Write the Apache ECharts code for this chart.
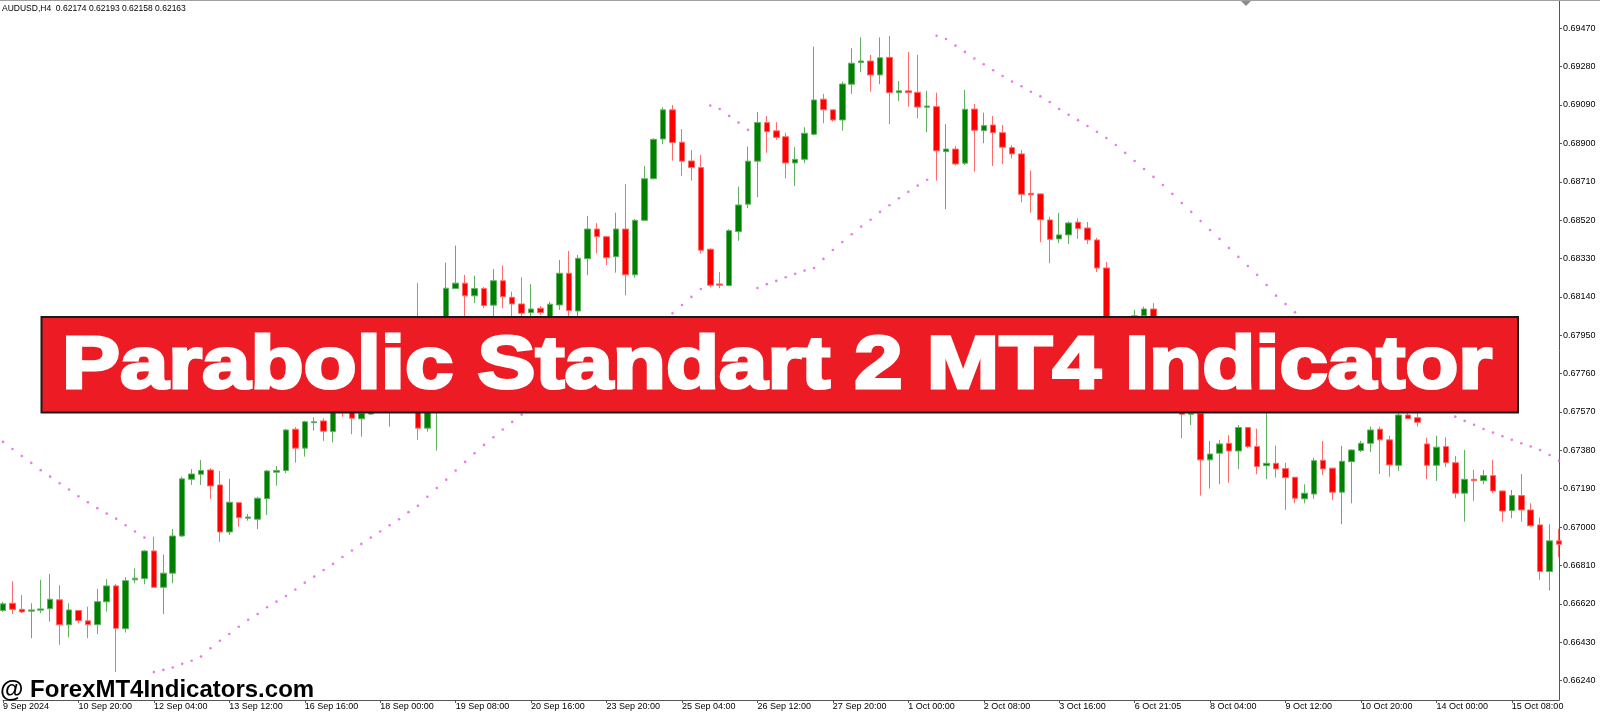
<!DOCTYPE html>
<html><head><meta charset="utf-8">
<script src="https://cdn.jsdelivr.net/npm/echarts@6/dist/echarts.min.js"></script>
<style>html,body{margin:0;padding:0;background:#fff;}#c{width:1600px;height:714px;}</style>
</head><body><div id="c"></div>
<script>
const symbolTitle = 'AUDUSD,H4  0.62174 0.62193 0.62158 0.62163';
const bannerText = 'Parabolic Standart 2 MT4 Indicator';
const watermark = '@ ForexMT4Indicators.com';
const labelEvery = 8;
const dateLabels = ['9 Sep 2024','10 Sep 20:00','12 Sep 04:00','13 Sep 12:00','16 Sep 16:00','18 Sep 00:00','19 Sep 08:00','20 Sep 16:00','23 Sep 20:00','25 Sep 04:00','26 Sep 12:00','27 Sep 20:00','1 Oct 00:00','2 Oct 08:00','3 Oct 16:00','6 Oct 21:05','8 Oct 04:00','9 Oct 12:00','10 Oct 20:00','14 Oct 00:00','15 Oct 08:00'];
const priceTicks = [0.66240,0.66430,0.66620,0.66810,0.67000,0.67190,0.67380,0.67570,0.67760,0.67950,0.68140,0.68330,0.68520,0.68710,0.68900,0.69090,0.69280,0.69470];

const open = [
.66587,.66623,.66593,.66584,.66589,.66596,.66640,.66516,.66587,.66536,
.66517,.66630,.66709,.66497,.66739,.66745,.66882,.66702,.66772,.66956,
.67237,.67262,.67283,.67209,.66976,.67121,.67044,.67039,.67141,.67272,
.67280,.67485,.67391,.67517,.67526,.67473,.67630,.67580,.67536,.67560,
.67610,.67630,.67655,.67778,.67952,.67490,.67630,.67927,.68181,.68208,
.68145,.68181,.68099,.68220,.68138,.68105,.68062,.68084,.68042,.68100,
.68257,.68070,.68329,.68476,.68438,.68339,.68476,.68249,.68519,.68725,
.68922,.69066,.68906,.68813,.68780,.68376,.68204,.68196,.68463,.68599,
.68812,.69003,.68962,.68933,.68803,.68821,.68945,.69119,.69066,.69016,
.69193,.69300,.69308,.69239,.69326,.69151,.69160,.69153,.69079,.69082,
.68859,.68872,.68802,.69070,.68963,.68991,.68953,.68879,.68848,.68653,
.68650,.68521,.68427,.68447,.68510,.68481,.68422,.68283,.67937,.68001,
.67976,.68046,.68080,.67927,.67754,.67630,.67559,.67563,.67333,.67366,
.67415,.67377,.67493,.67399,.67304,.67316,.67290,.67247,.67140,.67164,
.67331,.67292,.67173,.67324,.67379,.67415,.67485,.67432,.67306,.67555,
.67542,.67412,.67306,.67399,.67319,.67168,.67237,.67230,.67255,.67179,
.67082,.67156,.67085,.67011,.66780,.66932];
const high = [
.66630,.66732,.66664,.66623,.66739,.66768,.66712,.66623,.66590,.66606,
.66694,.66742,.66719,.66752,.66796,.66887,.66953,.66864,.66990,.67250,
.67287,.67333,.67292,.67278,.67239,.67125,.67065,.67150,.67283,.67303,
.67486,.67495,.67527,.67544,.67539,.67655,.67655,.67630,.67605,.67640,
.67679,.67689,.67803,.67976,.68208,.67655,.67952,.68310,.68394,.68249,
.68245,.68189,.68278,.68295,.68166,.68237,.68203,.68095,.68116,.68323,
.68367,.68348,.68541,.68505,.68442,.68557,.68699,.68526,.68788,.68925,
.69079,.69090,.68971,.68867,.68843,.68380,.68263,.68475,.68686,.68884,
.69056,.69036,.69005,.68953,.68881,.68980,.69379,.69145,.69068,.69206,
.69371,.69425,.69338,.69425,.69432,.69209,.69353,.69338,.69160,.69151,
.68995,.68887,.69165,.69095,.69052,.69036,.68991,.68892,.68867,.68765,
.68652,.68537,.68557,.68513,.68529,.68511,.68432,.68313,.68026,.68036,
.68075,.68092,.68109,.67952,.67778,.67650,.67580,.67580,.67427,.67432,
.67455,.67506,.67496,.67488,.67630,.67403,.67319,.67248,.67212,.67344,
.67427,.67294,.67402,.67385,.67427,.67498,.67498,.67452,.67564,.67570,
.67564,.67443,.67453,.67445,.67352,.67382,.67283,.67283,.67333,.67182,
.67184,.67263,.67118,.67047,.67014,.66992];
const low = [
.66580,.66570,.66574,.66450,.66574,.66532,.66417,.66455,.66524,.66450,
.66471,.66582,.66283,.66478,.66722,.66717,.66699,.66570,.66722,.66951,
.67209,.67209,.67140,.66927,.66961,.67002,.67032,.66991,.67060,.67205,
.67267,.67319,.67349,.67478,.67427,.67420,.67547,.67460,.67448,.67555,
.67590,.67498,.67630,.67754,.67432,.67473,.67379,.67902,.68179,.68042,
.68109,.68084,.68042,.68084,.68042,.68036,.68042,.68051,.68036,.68075,
.68036,.68036,.68247,.68356,.68298,.68260,.68148,.68235,.68516,.68721,
.68896,.68815,.68739,.68716,.68354,.68188,.68183,.68192,.68418,.68579,
.68633,.68854,.68917,.68727,.68689,.68802,.68940,.69000,.69008,.68963,
.69145,.69252,.69156,.69193,.68995,.69110,.69082,.69024,.68955,.68716,
.68574,.68790,.68793,.68760,.68901,.68788,.68797,.68826,.68609,.68557,
.68410,.68307,.68406,.68402,.68427,.68402,.68263,.67917,.67902,.67947,
.67957,.68026,.67907,.67729,.67605,.67440,.67506,.67156,.67191,.67212,
.67220,.67288,.67391,.67262,.67237,.67245,.67085,.67118,.67118,.67140,
.67258,.67135,.67014,.67118,.67372,.67371,.67263,.67250,.67278,.67536,
.67498,.67237,.67229,.67297,.67143,.67027,.67130,.67212,.67168,.67027,
.67044,.67027,.67002,.66739,.66686,.66851];
const close = [
.66620,.66593,.66580,.66590,.66595,.66643,.66516,.66590,.66537,.66517,
.66631,.66709,.66499,.66735,.66747,.66882,.66702,.66772,.66956,.67239,
.67263,.67280,.67204,.66976,.67123,.67047,.67050,.67143,.67278,.67280,
.67481,.67391,.67522,.67522,.67475,.67630,.67580,.67539,.67564,.67610,
.67640,.67655,.67778,.67952,.67490,.67630,.67927,.68183,.68208,.68145,
.68181,.68097,.68220,.68141,.68105,.68059,.68080,.68062,.68104,.68257,
.68072,.68331,.68476,.68438,.68334,.68476,.68249,.68519,.68725,.68920,
.69066,.68904,.68812,.68780,.68371,.68198,.68198,.68468,.68595,.68812,
.69003,.68958,.68930,.68803,.68821,.68950,.69115,.69066,.69016,.69194,
.69297,.69308,.69239,.69324,.69151,.69160,.69151,.69080,.69085,.68863,
.68872,.68798,.69069,.68965,.68988,.68953,.68881,.68848,.68648,.68645,
.68522,.68425,.68447,.68506,.68478,.68422,.68283,.67937,.68001,.67976,
.68046,.68080,.67927,.67754,.67630,.67559,.67563,.67333,.67362,.67412,
.67377,.67493,.67399,.67300,.67316,.67288,.67245,.67143,.67168,.67329,
.67288,.67173,.67326,.67382,.67415,.67481,.67432,.67308,.67555,.67537,
.67519,.67306,.67396,.67319,.67168,.67237,.67230,.67255,.67179,.67080,
.67156,.67085,.67007,.66780,.66932,.66915];
// Parabolic SAR dots (null = hidden behind the banner)
const sar = [
.67422,.67387,.67352,.67318,.67282,.67250,.67217,.67186,.67153,.67123,
.67094,.67067,.67042,.67009,.66978,.66948,.66283,.66293,.66305,.66323,
.66338,.66359,.66400,.66437,.66471,.66507,.66541,.66570,.66603,.66631,
.66659,.66691,.66725,.66755,.66788,.66818,.66852,.66884,.66917,.66948,
.66978,.67009,.67039,.67074,.67106,.67150,.67194,.67235,.67280,.67323,
.67366,.67407,.67445,.67483,.67521,.67557,null,null,null,null,
null,null,null,null,null,null,null,null,null,null,
null,.68059,.68100,.68140,.68179,.69087,.69070,.69036,.69003,.68967,
.68184,.68203,.68219,.68237,.68254,.68270,.68283,.68328,.68372,.68412,
.68450,.68488,.68522,.68561,.68594,.68628,.68660,.68691,.68720,.69433,
.69417,.69384,.69353,.69320,.69292,.69262,.69234,.69206,.69183,.69156,
.69133,.69105,.69070,.69042,.69015,.68986,.68957,.68927,.68892,.68853,
.68813,.68773,.68734,.68694,.68650,.68605,.68561,.68516,.68471,.68427,
.68382,.68338,.68293,.68249,.68199,.68146,.68105,.68064,null,null,
null,null,null,null,null,null,null,null,null,null,
null,null,null,null,.67547,.67526,.67507,.67486,.67468,.67450,
.67432,.67415,.67399,.67382,.67357,.67329];

const yMin = 0.66144, yMax = 0.69605;
const FONT = '"Liberation Sans", Arial, sans-serif';

const cats = open.map((_, i) => String(i));
const candles = open.map((o, i) => [o, close[i], low[i], high[i]]);
const sarData = sar.map(v => v == null ? '-' : v);

const chart = echarts.init(document.getElementById('c'), null, {renderer: 'canvas', width: 1600, height: 714});
chart.setOption({
  animation: false,
  backgroundColor: '#ffffff',
  grid: {left: 0, right: 41, top: 1, bottom: 14, containLabel: false},
  xAxis: {
    type: 'category', data: cats, boundaryGap: false,
    axisLine: {show: true, lineStyle: {color: '#555', width: 1}},
    axisTick: {show: true, interval: (i) => i % labelEvery === 0, length: 3, lineStyle: {color: '#555'}},
    axisLabel: {
      interval: (i) => i % labelEvery === 0,
      formatter: (v, i) => (i % labelEvery === 0 && dateLabels[i / labelEvery]) ? dateLabels[i / labelEvery] : '',
      align: 'left', margin: 2, fontFamily: FONT, fontSize: 9, color: '#000', hideOverlap: false
    },
    splitLine: {show: false}
  },
  yAxis: {
    type: 'value', position: 'right', min: yMin, max: yMax, scale: true,
    axisLine: {show: true, lineStyle: {color: '#555', width: 1}},
    axisTick: {show: true, customValues: priceTicks, length: 3, lineStyle: {color: '#555'}},
    axisLabel: {customValues: priceTicks, formatter: v => v.toFixed(5), margin: 4, fontFamily: FONT, fontSize: 9, color: '#000'},
    splitLine: {show: false}
  },
  series: [
    {
      type: 'candlestick', data: candles, barWidth: 6, clip: true, z: 2,
      itemStyle: {color: '#008000', color0: '#ff0000', borderColor: '#62b062', borderColor0: '#ff6a6a', borderWidth: 1}
    },
    {
      type: 'scatter', data: sarData, symbol: 'circle', symbolSize: 2.6, z: 3, silent: true,
      itemStyle: {color: '#e05ee0'}
    }
  ],
  graphic: [
    {type: 'rect', z: 50, shape: {x: 0, y: 0, width: 1600, height: 1}, style: {fill: '#a0a0a0'}},
    {type: 'text', z: 50, x: 2, y: 9, style: {text: symbolTitle, fill: '#000', font: '8.5px "Liberation Sans", Arial, sans-serif', align: 'left', verticalAlign: 'middle'}},
    {type: 'polygon', z: 50, shape: {points: [[1241, 1], [1251, 1], [1246, 6]]}, style: {fill: '#8c8c8c'}},
    {type: 'rect', z: 100, shape: {x: 41.5, y: 317, width: 1476.5, height: 95.5}, style: {fill: '#ed1c24', stroke: '#1a1a1a', lineWidth: 2}},
    {type: 'text', z: 101, x: 777, y: 368, scaleX: 1.175, originX: 0, originY: 0,
      style: {text: bannerText, x: 0, y: 0, fill: '#ffffff', stroke: '#ffffff', lineWidth: 3, font: 'bold 74px "Liberation Sans", Arial, sans-serif', align: 'center', verticalAlign: 'middle'}},
    {type: 'text', z: 101, x: 0, y: 690, style: {text: watermark, fill: '#000', font: 'bold 24px "Liberation Sans", Arial, sans-serif', align: 'left', verticalAlign: 'middle'}}
  ]
});
</script>
</body></html>
